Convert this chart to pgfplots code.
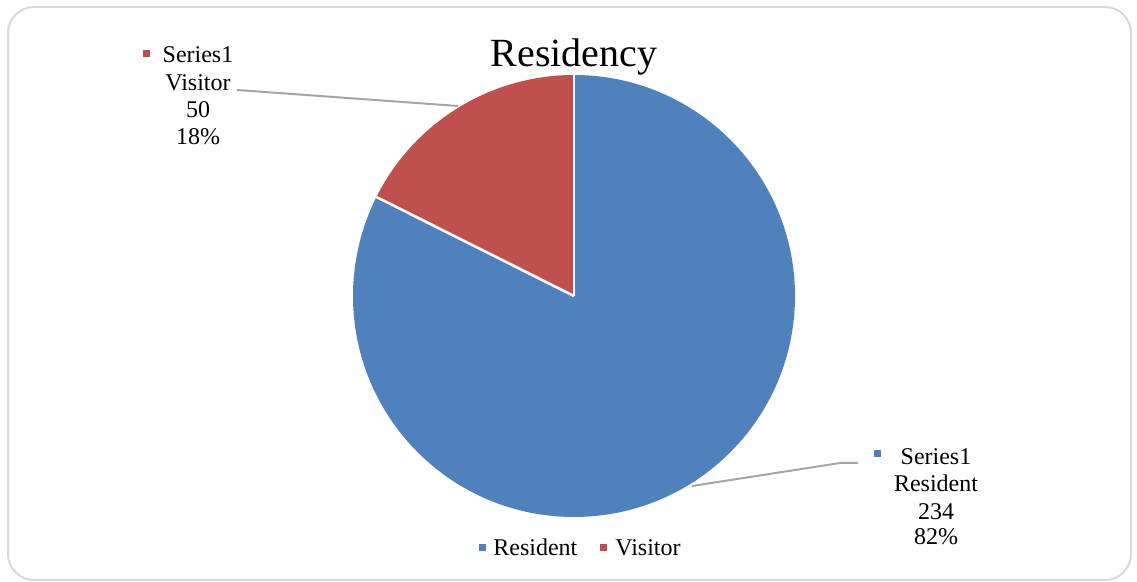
\documentclass[border=0pt]{standalone}
\usepackage{pgfplots}
\usepackage{pgfplotstable}
\pgfplotsset{compat=1.18}
\usepackage{fontspec}
\setmainfont{Liberation Serif}
\definecolor{resblue}{RGB}{79,129,189}
\definecolor{visred}{RGB}{192,80,77}
\definecolor{leader}{RGB}{165,165,165}
\definecolor{frame}{RGB}{217,217,217}
\pgfplotstableread{
label value
Resident 234
Visitor 50
}\piedata
\begin{document}%
\begin{tikzpicture}
\pgfplotstablegetelem{0}{value}\of\piedata \let\vres\pgfplotsretval
\pgfplotstablegetelem{1}{value}\of\piedata \let\vvis\pgfplotsretval
\pgfmathsetmacro\angV{360*(\vvis/(\vres+\vvis))}
\pgfmathsetmacro\angEnd{90+\angV}
\pgfmathsetmacro\angResEnd{\angEnd-360}
\begin{axis}[
  width=568.5pt, height=291pt, scale only axis,
  xmin=0, xmax=1137, ymin=0, ymax=582, y dir=reverse,
  axis lines=none, ticks=none, clip=false,
]
\path[fill=white] (axis cs:0,0) rectangle (axis cs:1137,582);
\draw[frame, line width=1pt, rounded corners=13pt] (axis cs:8,7) rectangle (axis cs:1131,580);
% pie
\fill[resblue] (axis cs:574,296) -- ++(90:110.5pt) arc[start angle=90, end angle=\angResEnd, radius=110.5pt] -- cycle;
\fill[visred] (axis cs:574,296) -- ++(90:110.5pt) arc[start angle=90, end angle=\angEnd, radius=110.5pt] -- cycle;
\draw[white, line width=1.3pt] (axis cs:574,296) -- ++(90:110.5pt);
\draw[white, line width=1.3pt] (axis cs:574,296) -- ++(\angEnd:110.5pt);
% title
\node[anchor=base, font=\fontsize{20}{24}\selectfont, inner sep=0pt] at (axis cs:574,67) {Residency};
% leader lines
\draw[leader, line width=1pt] (axis cs:237,90) -- (axis cs:458,106);
\draw[leader, line width=1pt] (axis cs:692,486) -- (axis cs:840,463) -- (axis cs:858,463);
% visitor label
\fill[visred] (axis cs:142.5,50.5) rectangle (axis cs:149.5,57.5);
\begin{scope}[every node/.style={anchor=base, inner sep=0pt, font=\fontsize{12}{14}\selectfont}]
\node at (axis cs:198,63) {Series1};
\node at (axis cs:198,91) {Visitor};
\node at (axis cs:198,118) {50};
\node at (axis cs:198,145) {18\%};
\node at (axis cs:936,465) {Series1};
\node at (axis cs:936,492) {Resident};
\node at (axis cs:936,520) {234};
\node at (axis cs:936,545) {82\%};
\node[anchor=base west] at (axis cs:493,556) {Resident};
\node[anchor=base west] at (axis cs:615,556) {Visitor};
\end{scope}
\fill[resblue] (axis cs:873.5,450.5) rectangle (axis cs:880.5,457.5);
% legend
\fill[resblue] (axis cs:479,544.5) rectangle (axis cs:486,551.5);
\fill[visred] (axis cs:599.5,544.5) rectangle (axis cs:606.5,551.5);
\end{axis}
\end{tikzpicture}%
\end{document}
